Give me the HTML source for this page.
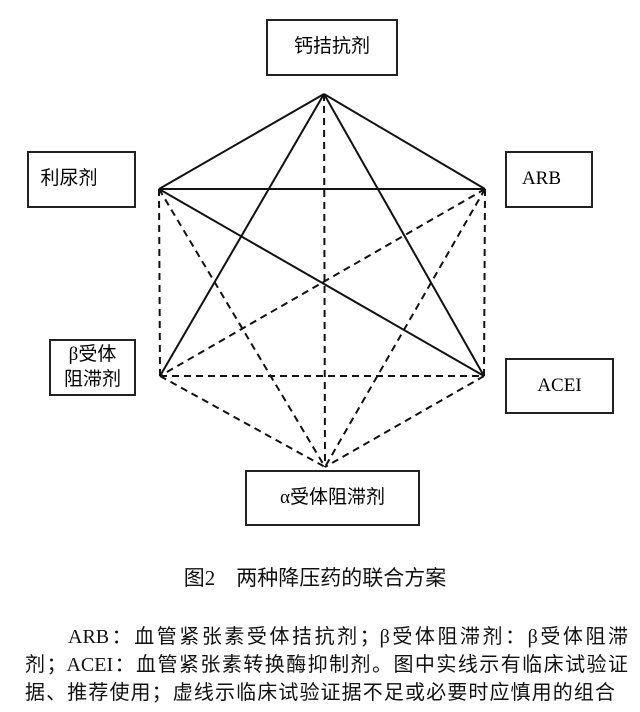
<!DOCTYPE html>
<html><head><meta charset="utf-8"><style>
body{margin:0;background:#fff;width:640px;height:712px;position:relative;overflow:hidden;font-family:"Liberation Serif","Noto Serif CJK SC","Noto Sans CJK SC",serif;color:#111}
.b{position:absolute;border:2px solid #222;box-sizing:border-box;display:flex;align-items:center;justify-content:center;font-size:19px;font-family:"Liberation Serif","Noto Sans CJK SC",sans-serif;line-height:1.3;text-align:center;color:#000}
.l{position:absolute;left:0;width:640px;white-space:nowrap;font-size:19px;font-family:"Liberation Serif","Noto Sans CJK SC",sans-serif;color:#111}
</style></head><body>
<svg width="640" height="712" style="position:absolute;left:0;top:0">
<g stroke="#111" stroke-width="2" fill="none">
<line x1="324" y1="94" x2="159" y2="189"/>
<line x1="324" y1="94" x2="485" y2="189"/>
<line x1="159" y1="189" x2="485" y2="189"/>
<line x1="324" y1="94" x2="160" y2="376"/>
<line x1="324" y1="94" x2="484" y2="376"/>
<line x1="159" y1="189" x2="484" y2="376"/>
</g>
<g stroke="#111" stroke-width="2" fill="none" stroke-dasharray="7,5">
<line x1="324" y1="94" x2="325" y2="467"/>
<line x1="159" y1="189" x2="160" y2="376"/>
<line x1="485" y1="189" x2="484" y2="376"/>
<line x1="159" y1="189" x2="325" y2="467"/>
<line x1="485" y1="189" x2="325" y2="467"/>
<line x1="485" y1="189" x2="160" y2="376"/>
<line x1="160" y1="376" x2="484" y2="376"/>
<line x1="160" y1="376" x2="325" y2="467"/>
<line x1="484" y1="376" x2="325" y2="467"/>
</g>
</svg>
<div class="b" style="left:266px;top:19px;width:132px;height:57px">钙拮抗剂</div>
<div class="b" style="left:27px;top:151px;width:109px;height:57px;padding-right:25px">利尿剂</div>
<div class="b" style="left:505px;top:151px;width:88px;height:57px;padding-right:15px">ARB</div>
<div class="b" style="left:49px;top:339px;width:87px;height:57px">β受体<br>阻滞剂</div>
<div class="b" style="left:505px;top:358px;width:109px;height:56px">ACEI</div>
<div class="b" style="left:245px;top:470px;width:175px;height:56px">α受体阻滞剂</div>
<div class="l" style="top:562px;text-align:center;font-size:21px;padding-right:10px;box-sizing:border-box">图2　两种降压药的联合方案</div>
<div class="l" style="top:620px;left:68px;width:560px;font-size:20px;text-align:justify;text-align-last:justify">ARB：血管紧张素受体拮抗剂；β受体阻滞剂：β受体阻滞</div>
<div class="l" style="top:648px;left:25px;width:603px;font-size:20px;text-align:justify;text-align-last:justify">剂；ACEI：血管紧张素转换酶抑制剂。图中实线示有临床试验证</div>
<div class="l" style="top:676px;left:25px;width:590px;font-size:20px;text-align:justify;text-align-last:justify">据、推荐使用；虚线示临床试验证据不足或必要时应慎用的组合</div>
</body></html>
